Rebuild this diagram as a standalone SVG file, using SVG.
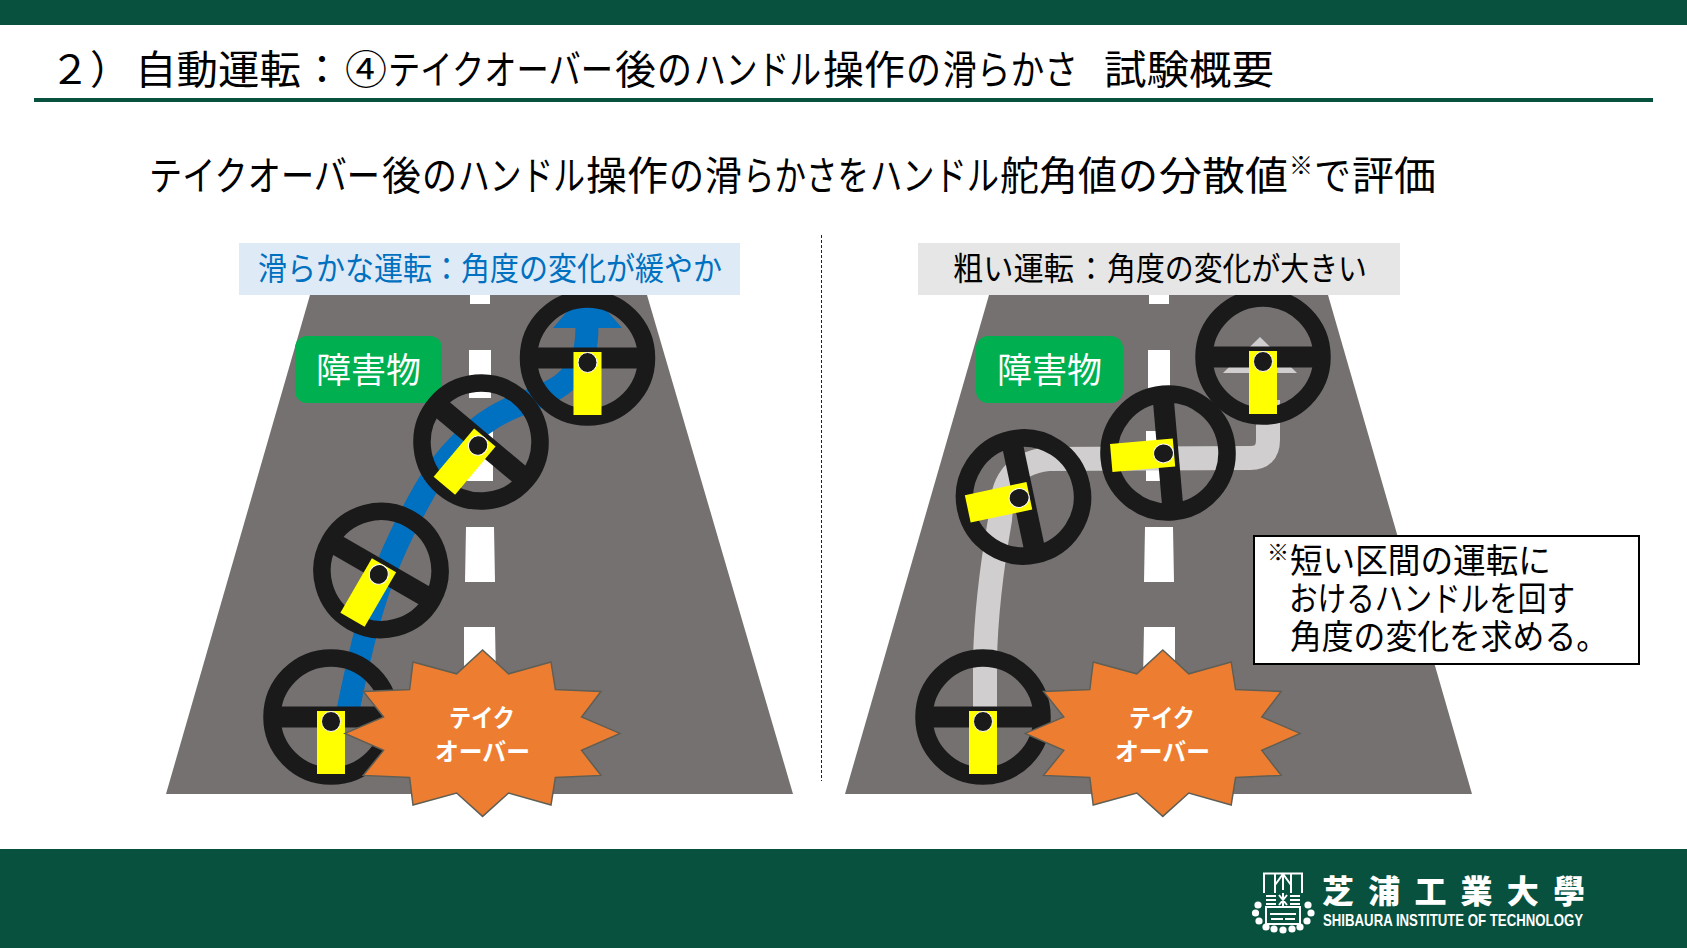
<svg xmlns="http://www.w3.org/2000/svg" xmlns:xlink="http://www.w3.org/1999/xlink" width="1687" height="948" viewBox="0 0 1687 948">
<style>
text{font-family:"Noto Sans CJK JP","Noto Sans CJK SC",sans-serif}
.road{fill:#767171}
.dash{fill:#fff}
.obst{fill:#00B050}
.obt{fill:#fff;font-size:35px}
.star{fill:#ED7D31;stroke:#5f5f55;stroke-width:1.5}
.stt{fill:#fff;font-size:25px;font-weight:700}
.lbl{font-size:32px}
.note{font-size:34px}
.main{font-size:40px}
</style>
<defs>
<g id="wheel">
<circle r="59" fill="none" stroke="#1a1a1a" stroke-width="17.5"/>
<rect x="-58" y="-10.5" width="116" height="21" fill="#1a1a1a"/>
<rect x="-14" y="-6" width="28" height="63" fill="#ffff00"/>
<ellipse cx="0" cy="4.5" rx="9.5" ry="10" fill="#1a1a1a" stroke="#fff" stroke-width="1"/>
</g>
<polygon id="burst" class="star" points="0,-83.4 26,-59.6 68.4,-71.4 72.8,-43.8 118.4,-42 99,-16.4 137.4,0 99,17 118.4,42 72.8,44 68.4,71.6 26,59.6 0,83 -26,59.6 -69.6,71.6 -73,44 -119.3,42 -99,17 -137.6,0 -99,-16.4 -119.3,-42 -73,-43.8 -69.6,-71.4 -26,-59.6"/>
</defs>
<rect width="1687" height="948" fill="#fff"/>
<rect id="top-band" width="1687" height="25" fill="#07513E"/>
<rect id="footer-band" y="849" width="1687" height="99" fill="#07513E"/>
<rect id="title-rule" x="34" y="98" width="1619" height="4" fill="#07513E"/>

<text id="title" class="main" y="84"><tspan x="50" textLength="80" lengthAdjust="spacingAndGlyphs">２）</tspan><tspan x="135" textLength="166" lengthAdjust="spacingAndGlyphs">自動運転</tspan><tspan x="302" textLength="40" lengthAdjust="spacingAndGlyphs">：</tspan><tspan x="345" textLength="42" lengthAdjust="spacingAndGlyphs">④</tspan><tspan x="388" textLength="225" lengthAdjust="spacingAndGlyphs">テイクオーバー</tspan><tspan x="615" textLength="41" lengthAdjust="spacingAndGlyphs">後</tspan><tspan x="657" textLength="35" lengthAdjust="spacingAndGlyphs">の</tspan><tspan x="694" textLength="127" lengthAdjust="spacingAndGlyphs">ハンドル</tspan><tspan x="823" textLength="82" lengthAdjust="spacingAndGlyphs">操作</tspan><tspan x="906" textLength="35" lengthAdjust="spacingAndGlyphs">の</tspan><tspan x="943" textLength="135" lengthAdjust="spacingAndGlyphs">滑らかさ</tspan><tspan x="1104" textLength="170" lengthAdjust="spacingAndGlyphs">試験概要</tspan></text>

<text id="subtitle" class="main" y="190"><tspan x="149" textLength="231" lengthAdjust="spacingAndGlyphs">テイクオーバー</tspan><tspan x="382" textLength="39" lengthAdjust="spacingAndGlyphs">後</tspan><tspan x="422" textLength="35" lengthAdjust="spacingAndGlyphs">の</tspan><tspan x="458" textLength="127" lengthAdjust="spacingAndGlyphs">ハンドル</tspan><tspan x="586" textLength="82" lengthAdjust="spacingAndGlyphs">操作</tspan><tspan x="669" textLength="35" lengthAdjust="spacingAndGlyphs">の</tspan><tspan x="705" textLength="37" lengthAdjust="spacingAndGlyphs">滑</tspan><tspan x="743" textLength="126" lengthAdjust="spacingAndGlyphs">らかさを</tspan><tspan x="870" textLength="129" lengthAdjust="spacingAndGlyphs">ハンドル</tspan><tspan x="1000" textLength="117" lengthAdjust="spacingAndGlyphs">舵角値</tspan><tspan x="1118" textLength="40" lengthAdjust="spacingAndGlyphs">の</tspan><tspan x="1159" textLength="129" lengthAdjust="spacingAndGlyphs">分散値</tspan><tspan x="1289" y="174" font-size="24" textLength="24" lengthAdjust="spacingAndGlyphs">※</tspan><tspan x="1314" y="190" textLength="37" lengthAdjust="spacingAndGlyphs">で</tspan><tspan x="1352" y="190" textLength="84" lengthAdjust="spacingAndGlyphs">評価</tspan></text>

<line id="divider" x1="821.5" y1="235" x2="821.5" y2="781" stroke="#222" stroke-width="1" stroke-dasharray="3 2"/>

<g id="road-left">
<polygon class="road" points="310,295 647,295 793,794 166,794"/>
<polygon class="dash" points="470,295 490,295 490,304 470,304"/>
<polygon class="dash" points="469,350 491,350 491,398 469,398"/>
<polygon class="dash" points="467,431 493,431 493,481 467,481"/>
<polygon class="dash" points="466,527 494,527 495,582 465,582"/>
<polygon class="dash" points="464,627 495,627 496,680 464,680"/>
</g>
<g id="road-right">
<polygon class="road" points="989,295 1328,295 1472,794 845,794"/>
<polygon class="dash" points="1149,295 1169,295 1169,304 1149,304"/>
<polygon class="dash" points="1148,350 1170,350 1170,398 1148,398"/>
<polygon class="dash" points="1146,431 1172,431 1172,481 1146,481"/>
<polygon class="dash" points="1145,527 1173,527 1174,582 1144,582"/>
<polygon class="dash" points="1144,627 1175,627 1175,680 1143,680"/>
</g>

<g id="obstacle-left"><rect class="obst" x="295" y="336" width="147" height="67" rx="12"/><text class="obt" x="316" y="383" textLength="105" lengthAdjust="spacingAndGlyphs">障害物</text></g>
<g id="obstacle-right"><rect class="obst" x="976" y="336" width="147" height="67" rx="12"/><text class="obt" x="997" y="383" textLength="105" lengthAdjust="spacingAndGlyphs">障害物</text></g>

<g id="connectors">
<path id="path-smooth" d="M345,725 C352,690 360,650 372,610 C385,565 405,525 425,490 C445,455 475,425 507,410 C530,399 555,394 570,377 C585,361 587,345 587,325" fill="none" stroke="#0070C0" stroke-width="23"/>
<polygon id="arrow-smooth" points="553,328 622,328 587,288" fill="#0070C0"/>
<path id="path-rough" d="M985,720 V660 C986,610 993,560 1000,520 C1002,490 1006,464 1048,459 L1250,458 Q1268,458 1268,440 V400" fill="none" stroke="#D0CECE" stroke-width="24"/>
<polygon id="arrow-rough" points="1223,373 1297,373 1260,337" fill="#D0CECE"/>
</g>

<g id="wheel-l1"><use href="#wheel" transform="translate(331,717)"/></g>
<g id="wheel-l2"><use href="#wheel" transform="translate(381,570.5) rotate(30)"/></g>
<g id="wheel-l3"><use href="#wheel" transform="translate(481,442) rotate(40)"/></g>
<g id="wheel-l4"><use href="#wheel" transform="translate(587.5,358)"/></g>
<g id="wheel-r1"><use href="#wheel" transform="translate(983,717)"/></g>
<g id="wheel-r2"><use href="#wheel" transform="translate(1023.5,497) rotate(78)"/></g>
<g id="wheel-r3"><use href="#wheel" transform="translate(1168,453) rotate(85)"/></g>
<g id="wheel-r4"><use href="#wheel" transform="translate(1263,357)"/></g>

<g id="takeover-left"><use href="#burst" transform="translate(482.6,733.4)"/><text class="stt" x="449" y="727" textLength="66" lengthAdjust="spacingAndGlyphs">テイク</text><text class="stt" x="435" y="761" textLength="95" lengthAdjust="spacingAndGlyphs">オーバー</text></g>
<g id="takeover-right"><use href="#burst" transform="translate(1162.8,733.4)"/><text class="stt" x="1129" y="727" textLength="66" lengthAdjust="spacingAndGlyphs">テイク</text><text class="stt" x="1115" y="761" textLength="95" lengthAdjust="spacingAndGlyphs">オーバー</text></g>

<g id="label-smooth"><rect x="239" y="243" width="501" height="52" fill="#DEEAF6"/><text class="lbl" x="258" y="280" fill="#0070C0" textLength="464" lengthAdjust="spacingAndGlyphs">滑らかな運転：角度の変化が緩やか</text></g>
<g id="label-rough"><rect x="918" y="243" width="482" height="52" fill="#E7E6E6"/><text class="lbl" y="280" fill="#000"><tspan x="953" textLength="121" lengthAdjust="spacingAndGlyphs">粗い運転</tspan><tspan x="1076" textLength="30" lengthAdjust="spacingAndGlyphs">：</tspan><tspan x="1107" textLength="260" lengthAdjust="spacingAndGlyphs">角度の変化が大きい</tspan></text></g>

<g id="note"><rect x="1254" y="536" width="385" height="128" fill="#fff" stroke="#000" stroke-width="2"/>
<text class="note" y="573"><tspan x="1267" y="560" font-size="22">※</tspan><tspan x="1290" y="573" textLength="261" lengthAdjust="spacingAndGlyphs">短い区間の運転に</tspan></text>
<text class="note" x="1289" y="611" textLength="286" lengthAdjust="spacingAndGlyphs">おけるハンドルを回す</text>
<text class="note" x="1290" y="649" textLength="318" lengthAdjust="spacingAndGlyphs">角度の変化を求める。</text></g>

<g id="logo" fill="#fff">
<g fill="none" stroke="#fff" stroke-width="2">
<path d="M1264,893 V873.500 H1302 V893 M1275,874 V893 M1291,874 V893 M1275,885 L1283,874 L1291,885 M1283,874 V890"/>
<path d="M1266,896 H1276 M1266,900 H1276 M1266,904 H1276 M1290,896 H1300 M1290,900 H1300 M1290,904 H1300 M1279,895 L1287,905 M1287,895 L1279,905 M1283,893 V906"/>
<path d="M1266,907 H1300 V924 H1266 Z M1270,914 H1296 M1271,919 H1283 M1285,919 H1295"/>
</g>
<circle cx="1258" cy="905" r="3.6"/><circle cx="1255.500" cy="913" r="3.6"/><circle cx="1259" cy="921" r="3.6"/><circle cx="1266" cy="927" r="3.6"/><circle cx="1274" cy="929" r="3.6"/><circle cx="1283" cy="930" r="3.6"/><circle cx="1292" cy="929" r="3.6"/><circle cx="1300" cy="927" r="3.6"/><circle cx="1307" cy="921" r="3.6"/><circle cx="1311" cy="913" r="3.6"/><circle cx="1308" cy="905" r="3.6"/>
<text x="1322" y="903" font-size="32" font-weight="900" textLength="263">芝浦工業大學</text>
<text x="1323" y="926" font-size="16.500" font-weight="700" style="font-family:'Liberation Sans',sans-serif" textLength="260" lengthAdjust="spacingAndGlyphs">SHIBAURA INSTITUTE OF TECHNOLOGY</text>
</g>
</svg>
